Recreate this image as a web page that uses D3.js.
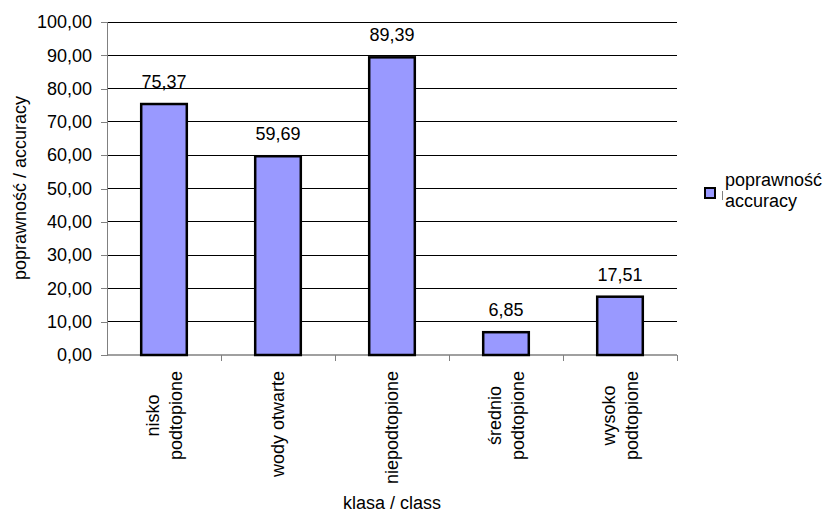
<!DOCTYPE html>
<html>
<head>
<meta charset="utf-8">
<script src="https://cdn.jsdelivr.net/npm/d3@7"></script>
<style>
  html, body { margin: 0; padding: 0; background: #fff; }
  text { font-family: "Liberation Sans", Arial, sans-serif; fill: #000; }
</style>
</head>
<body>
<svg id="chart" width="831" height="515"></svg>
<script>
// Accuracy per class
const categories = [
  ["nisko", "podtopione"],
  ["wody otwarte"],
  ["niepodtopione"],
  ["średnio", "podtopione"],
  ["wysoko", "podtopione"]
];
const accuracy = [75.37, 59.69, 89.39, 6.85, 17.51];
const yTicks = [0, 10, 20, 30, 40, 50, 60, 70, 80, 90, 100];
const seriesName = ["poprawność", "accuracy"];
const yTitle = "poprawność / accuracy";
const xTitle = "klasa / class";

const svg = d3.select("#chart");
const plot = { left: 107, right: 677, top: 22, bottom: 355 };
const fontSize = 18;

const fmt = v => v.toFixed(2).replace(".", ",");

const x = d3.scaleBand()
  .domain(d3.range(categories.length))
  .range([plot.left, plot.right])
  .paddingInner(0.6)
  .paddingOuter(0.3);
const step = x.step();

const y = d3.scaleLinear().domain([0, 100]).range([plot.bottom, plot.top]);

// horizontal gridlines
svg.append("g")
  .selectAll("line")
  .data(yTicks.filter(t => t > 0))
  .join("line")
  .attr("x1", plot.left).attr("x2", plot.right)
  .attr("y1", d => y(d)).attr("y2", d => y(d))
  .attr("stroke", "#000").attr("stroke-width", 1)
  .attr("shape-rendering", "crispEdges");

// y axis
const yAxis = d3.axisLeft(y).tickValues(yTicks).tickFormat(fmt).tickSize(6).tickPadding(9);
const gy = svg.append("g").attr("transform", `translate(${plot.left},0)`).call(yAxis);
gy.select(".domain").attr("stroke", "#808080").attr("shape-rendering", "crispEdges");
gy.selectAll(".tick line").attr("stroke", "#808080").attr("shape-rendering", "crispEdges");
gy.selectAll(".tick text")
  .attr("font-size", fontSize)
  .attr("font-family", "Liberation Sans, Arial, sans-serif")
  .attr("fill", "#000");

// x axis line with ticks at category boundaries
const boundaries = d3.range(categories.length + 1).map(i => plot.left + i * step);
svg.append("line")
  .attr("x1", plot.left).attr("x2", plot.right)
  .attr("y1", plot.bottom).attr("y2", plot.bottom)
  .attr("stroke", "#808080").attr("stroke-width", 1.5);
svg.append("g")
  .selectAll("line")
  .data(boundaries.slice(1))
  .join("line")
  .attr("x1", d => d).attr("x2", d => d)
  .attr("y1", plot.bottom).attr("y2", plot.bottom + 6)
  .attr("stroke", "#808080")
  .attr("shape-rendering", "crispEdges");

// bars
svg.append("g")
  .selectAll("rect")
  .data(accuracy)
  .join("rect")
  .attr("x", (d, i) => x(i))
  .attr("width", x.bandwidth())
  .attr("y", d => y(d))
  .attr("height", d => y(0) - y(d))
  .attr("fill", "#9999ff")
  .attr("stroke", "#000")
  .attr("stroke-width", 2.5);

// value labels
svg.append("g")
  .selectAll("text")
  .data(accuracy)
  .join("text")
  .attr("x", (d, i) => x(i) + x.bandwidth() / 2)
  .attr("y", d => y(d) - 16)
  .attr("text-anchor", "middle")
  .attr("font-size", fontSize)
  .text(fmt);

// rotated category labels
const labelTop = plot.bottom + 16;
const lineGap = 23;
categories.forEach((lines, i) => {
  const cx = x(i) + x.bandwidth() / 2;
  const g = svg.append("g");
  const texts = lines.map((t, j) => g.append("text")
    .attr("font-size", fontSize)
    .attr("text-anchor", "middle")
    .attr("dominant-baseline", "central")
    .text(t));
  const maxLen = d3.max(texts, t => t.node().getComputedTextLength());
  const cy = labelTop + maxLen / 2;
  texts.forEach((t, j) => {
    const lx = cx + (j - (lines.length - 1) / 2) * lineGap;
    t.attr("transform", `translate(${lx},${cy}) rotate(-90)`);
  });
});

// axis titles
svg.append("text")
  .attr("transform", `translate(20,188) rotate(-90)`)
  .attr("text-anchor", "middle")
  .attr("dominant-baseline", "central")
  .attr("font-size", fontSize)
  .text(yTitle);

svg.append("text")
  .attr("x", (plot.left + plot.right) / 2)
  .attr("y", 509)
  .attr("text-anchor", "middle")
  .attr("font-size", fontSize)
  .text(xTitle);

// legend
const lg = svg.append("g");
lg.append("rect")
  .attr("x", 705).attr("y", 188).attr("width", 10).attr("height", 10)
  .attr("fill", "#9999ff").attr("stroke", "#000").attr("stroke-width", 2);
lg.append("line")
  .attr("x1", 722.5).attr("x2", 722.5).attr("y1", 191).attr("y2", 200)
  .attr("stroke", "#808080");
lg.selectAll("text.item")
  .data(seriesName)
  .join("text")
  .attr("class", "item")
  .attr("x", 725)
  .attr("y", (d, i) => 186 + i * 21)
  .attr("font-size", fontSize)
  .text(d => d);
</script>
</body>
</html>
